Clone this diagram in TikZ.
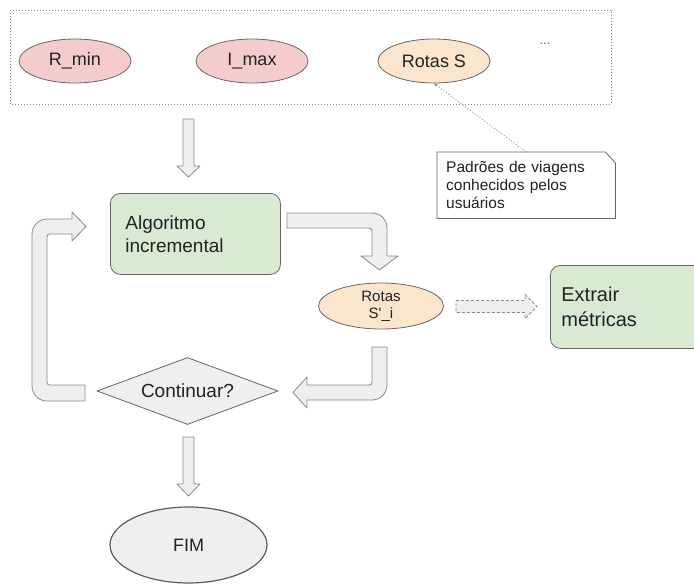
\documentclass[tikz,border=0pt]{standalone}
\usepackage{fontspec}
\setmainfont{Liberation Sans}
\newfontfamily\plainf{Liberation Sans}[Ligatures=TeXOff]
\usetikzlibrary{shapes.geometric,arrows.meta}
\definecolor{pinkf}{HTML}{F4CCCC}
\definecolor{peachf}{HTML}{FCE5CD}
\definecolor{greenf}{HTML}{D9EAD3}
\definecolor{greyf}{HTML}{EFEFEF}
\definecolor{edgec}{HTML}{666666}
\definecolor{aedge}{HTML}{8A8A8A}
\definecolor{txt}{HTML}{222222}
\begin{document}
\begin{tikzpicture}[x=1pt,y=-1pt,
  every node/.style={text=txt},
  oval/.style={ellipse, draw=edgec, line width=0.8pt, inner sep=0pt,
    font=\fontsize{18}{21}\selectfont},
  greenbox/.style={draw=edgec, fill=greenf, rounded corners=10pt, line width=0.8pt,
    align=left, inner sep=0pt},
  barrow/.style={draw=aedge, fill=greyf, line width=0.8pt, line join=round},
  darrow/.style={draw=aedge, fill=greyf, line width=0.8pt, dash pattern=on 3pt off 2pt},
  dotline/.style={draw=aedge, line width=0.8pt, dash pattern=on 1pt off 2pt},
  notetext/.style={font=\fontsize{15.5}{18}\selectfont, anchor=north west, minimum width=173pt,
    minimum height=66pt, text width=160pt, align=left, inner xsep=9pt, inner ysep=0pt}
]
\useasboundingbox (0,0) rectangle (694,584);
\clip (0,0) rectangle (694,584);

% dotted container
\draw[dotline] (10,10) rectangle (611,104);

% top ovals
\node[oval, fill=pinkf, minimum width=112pt, minimum height=44pt] (rmin) at (75,61) {R\_min};
\node[oval, fill=pinkf, minimum width=112pt, minimum height=44pt] (imax) at (252,61) {I\_max};
\node[oval, fill=peachf, minimum width=112pt, minimum height=44pt] (rotas) at (434,61) {Rotas S};
\node[font=\fontsize{13}{14}\selectfont, text=edgec] (dots) at (545,44) {...};

% note
\node[notetext] (note) at (437,152) {\phantom{X}};
\draw[draw=edgec, line width=0.8pt, fill=white] (note.north west) -- ([xshift=-10pt]note.north east)
  -- ([yshift=-11pt]note.north east) -- (note.south east) -- (note.south west) -- cycle;
\node[notetext] (notetxt) at (437,152) {Padrões de viagens\\conhecidos pelos\\usuários};
\draw[dotline, -{Stealth[length=4pt,width=3pt]}] (note.north) -- (rotas.south);

% top down arrow
\draw[barrow] (183,119) -- (194,119) -- (194,166) -- (200,166) -- (188.5,177)
  -- (177,166) -- (183,166) -- cycle;

% Algoritmo incremental
\node[greenbox, anchor=north west, minimum width=157pt, minimum height=81pt,
  text width=140pt, inner xsep=15pt, font=\fontsize{19}{23}\selectfont]
  (alg) at (110,193) {Algoritmo\\incremental};

% bent arrow alg -> rotas S'_i
\draw[barrow] (287,213) -- (372,213) .. controls (380.3,213) and (387,219.7) .. (387,228)
  -- (387,256) -- (398,256) -- (379.5,270) -- (361,256) -- (372,256)
  -- (372,231) .. controls (372,229) and (371,228) .. (369,228) -- (287,228) -- cycle;

% Rotas S'_i
\node[oval, fill=peachf, minimum width=125pt, minimum height=46pt, align=center,
  font=\fontsize{15}{17}\selectfont] (rotasi) at (381,306) {Rotas\\S{\plainf'}\_i};

% dashed arrow
\draw[darrow] (456,300.5) -- (525,300.5) -- (525,294.5) -- (537,306.5) -- (525,318.5)
  -- (525,312.5) -- (456,312.5) -- cycle;

% Extrair metricas
\node[greenbox, anchor=north west, minimum width=170pt, minimum height=83pt,
  text width=148pt, inner xsep=11pt, font=\fontsize{20}{25}\selectfont]
  (ext) at (550,265) {Extrair\\métricas};

% bent arrow rotas S'_i -> continuar
\draw[barrow] (372,347) -- (387,347) -- (387,385) .. controls (387,393.3) and (380.3,400) .. (372,400)
  -- (307,400) -- (307,408) -- (293,392.5) -- (307,377) -- (307,385)
  -- (369,385) .. controls (371,385) and (372,384) .. (372,382) -- cycle;

% diamond
\node[diamond, draw=edgec, fill=greyf, line width=0.8pt, aspect=2.7, inner sep=0pt,
  minimum width=181pt, minimum height=67pt, font=\fontsize{19}{22}\selectfont]
  (cont) at (187.5,391) {Continuar?};

% loop arrow continuar -> alg
\draw[barrow] (85,385) -- (50,385) .. controls (48,385) and (47,384) .. (47,382)
  -- (47,237) .. controls (47,235) and (48,234) .. (50,234) -- (72,234) -- (72,241)
  -- (86,226.5) -- (72,212) -- (72,219) -- (47,219)
  .. controls (38.7,219) and (32,225.7) .. (32,234) -- (32,386)
  .. controls (32,394.3) and (38.7,401) .. (47,401) -- (85,401) -- cycle;

% bottom down arrow
\draw[barrow] (183,437) -- (194,437) -- (194,484) -- (200,484) -- (188.5,496)
  -- (177,484) -- (183,484) -- cycle;

% FIM
\node[oval, fill=greyf, draw=edgec!90!black, line width=1.2pt, minimum width=157pt,
  minimum height=76pt] (fim) at (188.5,545) {FIM};
\end{tikzpicture}
\end{document}
